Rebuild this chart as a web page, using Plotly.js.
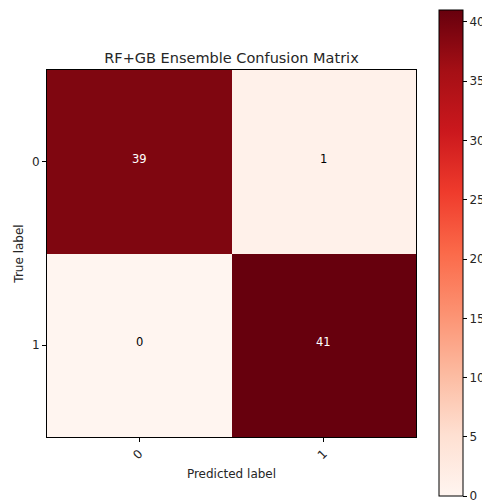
<!DOCTYPE html>
<html><head><meta charset="utf-8">
<script src="https://cdn.plot.ly/plotly-3.0.1.min.js"></script>
<style>body{margin:0;padding:0;background:#fff}</style>
</head><body>
<div id="chart" style="width:482px;height:500px"></div>
<script>
const predictedLabels = ['0', '1'];
const trueLabels = ['0', '1'];
const matrix = [[39, 1], [0, 41]];
const colorbarTicks = [0, 5, 10, 15, 20, 25, 30, 35, 40];

const reds = [
  [0.0, '#fff5f0'], [0.125, '#fee0d2'], [0.25, '#fcbba1'], [0.375, '#fc9272'],
  [0.5, '#fb6a4a'], [0.625, '#ef3b2c'], [0.75, '#cb181d'], [0.875, '#a50f15'], [1.0, '#67000d']
];
const zmax = 41;

const annotations = [];
matrix.forEach((row, i) => row.forEach((v, j) => {
  annotations.push({x: j, y: i, xref: 'x', yref: 'y', yshift: 3, text: String(v), showarrow: false,
    font: {family: 'DejaVu Sans', size: 11.5, color: v > zmax / 2 ? '#ffffff' : '#000000'}});
}));

Plotly.newPlot('chart', [{
  type: 'heatmap', z: matrix, x: [0, 1], y: [0, 1],
  colorscale: reds, zmin: 0, zmax: zmax,
  colorbar: {
    x: 1.062, xanchor: 'left', xref: 'paper', y: 0.501, yanchor: 'middle',
    thickness: 24, thicknessmode: 'pixels', len: 486, lenmode: 'pixels',
    outlinewidth: 1, outlinecolor: '#000', tickvals: colorbarTicks,
    ticks: 'outside', ticklen: 4, tickcolor: '#000', xpad: 0, ypad: 0,
    ticklabeloverflow: 'allow',
    tickfont: {family: 'DejaVu Sans', size: 12, color: '#262626'}
  },
  hoverinfo: 'none'
}], {
  width: 482, height: 500,
  margin: {l: 47, r: 66, t: 70, b: 63, pad: 0, autoexpand: false},
  paper_bgcolor: '#fff', plot_bgcolor: '#fff',
  title: {text: 'RF+GB Ensemble Confusion Matrix', x: 0.4803, xanchor: 'center', y: 0.884, yanchor: 'middle',
    font: {family: 'DejaVu Sans', size: 14.5, color: '#262626'}},
  xaxis: {
    tickvals: [0, 1], ticktext: predictedLabels, tickangle: -45, range: [-0.5, 1.5],
    showline: true, mirror: true, linecolor: '#000', linewidth: 1,
    ticks: 'outside', ticklen: 4, tickcolor: '#000', showgrid: false, zeroline: false,
    tickfont: {family: 'DejaVu Sans', size: 12, color: '#262626'},
    title: {text: 'Predicted label', font: {family: 'DejaVu Sans', size: 12, color: '#262626'}, standoff: 8}
  },
  yaxis: {
    tickvals: [0, 1], ticktext: trueLabels, range: [1.5, -0.5],
    showline: true, mirror: true, linecolor: '#000', linewidth: 1,
    ticks: 'outside', ticklen: 4, tickcolor: '#000', showgrid: false, zeroline: false,
    tickfont: {family: 'DejaVu Sans', size: 12, color: '#262626'},
    title: {text: 'True label', font: {family: 'DejaVu Sans', size: 12, color: '#262626'}, standoff: 5}
  },
  annotations: annotations
}, {staticPlot: true});
</script>
</body></html>
